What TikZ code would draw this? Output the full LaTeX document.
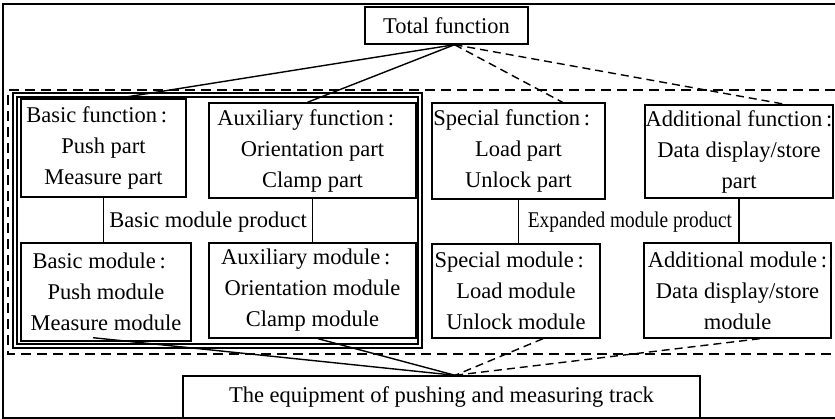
\documentclass[tikz,border=0pt]{standalone}
\usepackage{fontspec}
\setmainfont{Liberation Serif}
\usepackage{graphicx}
\tikzset{
  box/.style={draw, line width=1.4pt, align=center, inner sep=0pt, font=\fontsize{22.5}{31}\selectfont},
  lbl/.style={inner sep=0pt, font=\fontsize{22.5}{31}\selectfont},
  link/.style={line width=1.4pt},
  dlink/.style={line width=1.4pt, dash pattern=on 8pt off 5pt},
  frame/.style={line width=1.4pt, dash pattern=on 10pt off 6pt}
}
\newcommand{\cln}{\,:\kern.6em}

\begin{document}
\begin{tikzpicture}[x=1pt, y=-1pt]
\useasboundingbox (0,0) rectangle (835,419);
% frames
\draw[link] (835,4) -- (3,4) -- (3,418) -- (835,418);
\draw[frame] (835,90) -- (8,90) -- (8,354) -- (835,354);
\draw[link] (13,93) rectangle (422,348);
\draw[link] (17,97) rectangle (418,344);

\node[box, minimum width=163pt, minimum height=37pt] (total) at (446.5,25.5) {Total function};

\node[box, minimum width=165pt, minimum height=98pt] (bfun) at (103.5,148) {Basic function\cln\\Push part\\Measure part};
\node[box, minimum width=207pt, minimum height=95pt] (afun) at (312.5,150.5) {Auxiliary function\cln\\Orientation part\\Clamp part};
\node[box, minimum width=173pt, minimum height=96pt] (sfun) at (518.5,151) {Special function\cln\\Load part\\Unlock part};
\node[box, minimum width=188pt, minimum height=93pt] (dfun) at (739,151.5) {Additional function\,:\\Data display/store\\part};

\node[box, minimum width=170pt, minimum height=98pt] (bmod) at (106,292) {Basic module\cln\\Push module\\Measure module};
\node[box, minimum width=207pt, minimum height=95pt] (amod) at (312.5,290.5) {Auxiliary module\cln\\Orientation module\\Clamp module};
\node[box, minimum width=168pt, minimum height=94pt] (smod) at (516,291) {Special module\cln\\Load module\\Unlock module};
\node[box, minimum width=187pt, minimum height=95pt] (dmod) at (737.5,290.5) {Additional module\,:\\Data display/store\\module};

\node[box, minimum width=517pt, minimum height=42pt] (equip) at (441.5,397) {The equipment of pushing and measuring track};

\node[lbl] (bprod) at (208,222) {Basic module product};
\node[lbl] (eprod) at (630,222) {\scalebox{0.86}[1]{Expanded module product}};

\coordinate (top) at ([xshift=8pt]total.south);
\coordinate (bot) at ([xshift=13.5pt]equip.north);

\draw[link] (top) -- ([xshift=14.5pt]bfun.north);
\draw[link] (top) -- ([xshift=-5pt]afun.north);
\draw[dlink] (top) -- ([xshift=44pt]sfun.north);
\draw[dlink] (top) -- ([xshift=46pt]dfun.north);

\draw[link] (bfun.south) -- (bfun.south |- bmod.north);
\draw[link] (afun.south) -- (afun.south |- amod.north);
\draw[link] (sfun.south) -- (sfun.south |- smod.north);
\draw[link] (dfun.south) -- (dfun.south |- dmod.north);

\draw[link] ([xshift=-13pt,yshift=4pt]bmod.south) -- (bot);
\draw[link] ([xshift=5.5pt]amod.south) -- (bot);
\draw[dlink] ([xshift=27pt]smod.south) -- (bot);
\draw[dlink] ([xshift=22.5pt]dmod.south) -- (bot);
\end{tikzpicture}
\end{document}
